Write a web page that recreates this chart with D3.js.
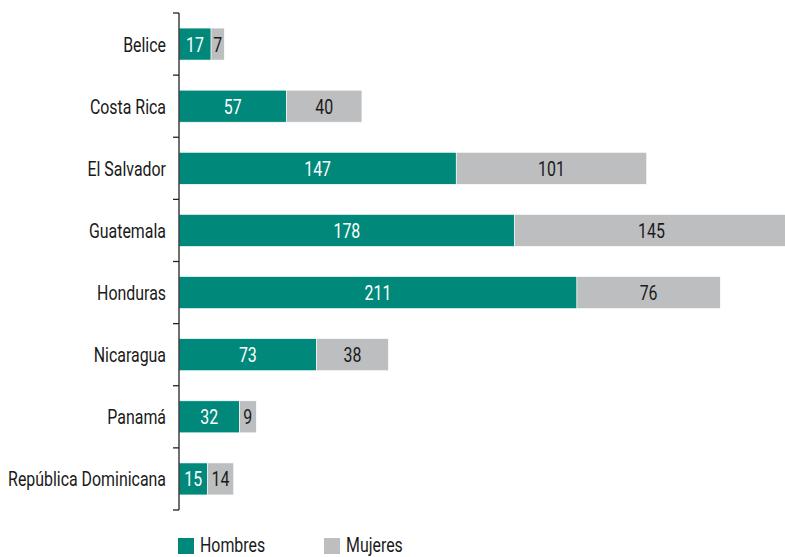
<!DOCTYPE html>
<html><head><meta charset="utf-8">
<script src="https://cdn.jsdelivr.net/npm/d3@7/dist/d3.min.js"></script>
<style>
html,body{margin:0;padding:0;background:#fff;}
svg{display:block;font-family:Roboto,"Liberation Sans",sans-serif;}
</style></head>
<body><svg id="c" width="785" height="557"></svg>
<script>
const categories = ["Belice","Costa Rica","El Salvador","Guatemala","Honduras","Nicaragua","Panamá","República Dominicana"];
const hombres = [17,57,147,178,211,73,32,15];
const mujeres = [7,40,101,145,76,38,9,14];
const seriesNames = ["Hombres","Mujeres"];
const colors = ["#00897A","#BDBEC0"];

const svg = d3.select("#c");
const FS = 20;
const probe = svg.append("text").attr("font-size",FS).text("República Dominicana");
const f = 158 / probe.node().getComputedTextLength();
probe.remove();

function txt(xp, yp, s, anchor, fill){
  svg.append("text").attr("transform",`translate(${xp},${yp}) scale(${f},1)`)
    .attr("text-anchor",anchor).attr("font-size",FS).attr("fill",fill).text(s);
}

const x0 = 179;
const x = d3.scaleLinear().domain([0,100]).range([x0, x0+188.6]);
const y = d3.scaleBand().domain(categories).range([13,510]).paddingInner(0.485).paddingOuter(0.2425);

categories.forEach((c,i)=>{
  const vals=[hombres[i],mujeres[i]];
  let acc=0;
  vals.forEach((v,j)=>{
    svg.append("rect").attr("x",x(acc)).attr("y",y(c)).attr("width",x(acc+v)-x(acc)).attr("height",y.bandwidth())
      .attr("fill",colors[j]).attr("stroke","#fff").attr("stroke-width",0.6);
    acc+=v;
  });
});
categories.forEach((c,i)=>{
  const vals=[hombres[i],mujeres[i]];
  let acc=0;
  vals.forEach((v,j)=>{
    txt((x(acc)+x(acc+v))/2, y(c)+y.bandwidth()/2+7.5, v, "middle", j===0?"#fff":"#1a1a1a");
    acc+=v;
  });
});

// axis
const yAxisScale = d3.scaleLinear().domain([0,categories.length]).range([13,510]);
const ax = svg.append("g").attr("transform",`translate(${x0},0)`);
ax.append("line").attr("x1",0).attr("x2",0).attr("y1",13).attr("y2",510).attr("stroke","#222").attr("stroke-width",1.3);
d3.range(categories.length+1).forEach(k=>{
  ax.append("line").attr("x1",-6).attr("x2",0).attr("y1",yAxisScale(k)).attr("y2",yAxisScale(k)).attr("stroke","#222").attr("stroke-width",1.3);
});
categories.forEach(c=>{
  txt(166, y(c)+y.bandwidth()/2+7.5, c, "end", "#1a1a1a");
});

// legend
const lx=[178,324];
seriesNames.forEach((s,i)=>{
  svg.append("rect").attr("x",lx[i]).attr("y",538).attr("width",16).attr("height",16).attr("fill",colors[i]);
  txt(lx[i]+22, 552, s, "start", "#1a1a1a");
});
</script></body></html>
